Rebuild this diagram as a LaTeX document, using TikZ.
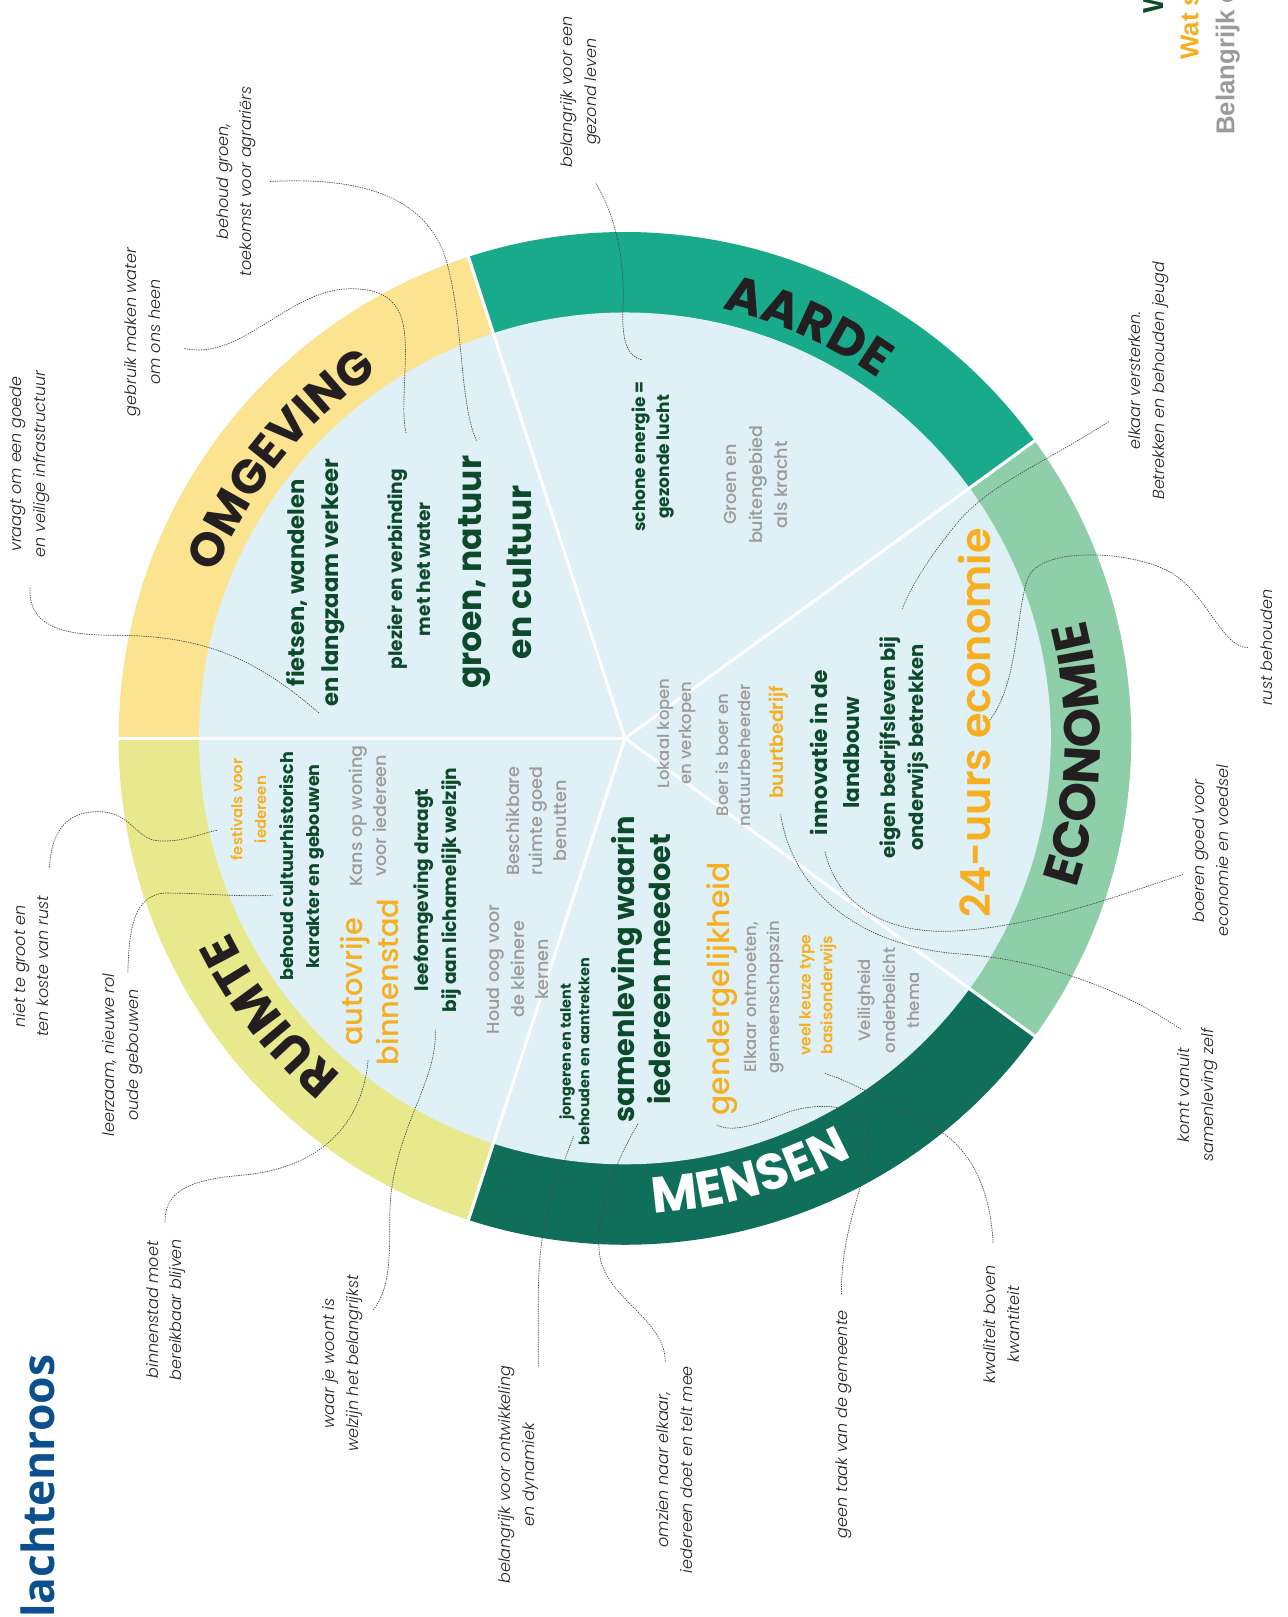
\documentclass[tikz,border=0pt]{standalone}
\usepackage{fontspec}
\setmainfont{Poppins}
\newfontfamily\pbold{Poppins Bold}
\newfontfamily\psemi{Poppins SemiBold}
\newfontfamily\pmed{Poppins Medium}
\newfontfamily\preg{Poppins}
\newfontfamily\plit{Poppins Light Italic}
\newfontfamily\ringfont{Poppins Bold}
\newfontfamily\titlefont{Open Sans}
\newfontfamily\headfont{Liberation Sans}
\usetikzlibrary{decorations.text}

\definecolor{omgc}{HTML}{FBE390}
\definecolor{aardec}{HTML}{18AA8B}
\definecolor{ecoc}{HTML}{8ECEA9}
\definecolor{mensc}{HTML}{0F6F5B}
\definecolor{ruimc}{HTML}{E8E98C}
\definecolor{innerc}{HTML}{DFF0F6}
\definecolor{dgreen}{HTML}{0C4A2B}
\definecolor{orangetxt}{HTML}{F7AF22}
\definecolor{greytxt}{HTML}{9A9A99}
\definecolor{anntxt}{HTML}{222222}
\definecolor{conncol}{HTML}{4A4A4A}
\definecolor{ringtxt}{HTML}{231F20}
\definecolor{titleblue}{HTML}{0B4F8E}
\definecolor{headgreen}{HTML}{0C4A2B}

\newcommand\myfs[2]{\fontsize{#1}{#2}\selectfont}

\tikzset{
  lbl/.style={rotate=90, align=center, inner sep=0pt},
  dg/.style={lbl, text=dgreen},
  gr/.style={lbl, text=greytxt},
  og/.style={lbl, text=orangetxt},
  ann/.style={lbl, text=anntxt, font=\plit\myfs{15.5}{23}},
  conn/.style={draw=conncol, line width=0.7pt, dash pattern=on 0.9pt off 1.4pt, line cap=round},
  sepline/.style={draw=white, line width=3pt},
  ringlbl/.style={decorate, decoration={text along path, text align=center, text color=#1}},
}

\begin{document}
\begin{tikzpicture}[x=1pt,y=-1pt]
\useasboundingbox (0,0) rectangle (1248,1568);
\fill[white] (0,0) rectangle (1248,1568);

\coordinate (C) at (606,716);
\begin{scope}[shift={(606,716)}]
  \fill[omgc]   (0,0) -- (180:491) arc[start angle=180,end angle=252,radius=491] -- cycle;
  \fill[aardec] (0,0) -- (252:491) arc[start angle=252,end angle=324,radius=491] -- cycle;
  \fill[ecoc]   (0,0) -- (-36:491) arc[start angle=-36,end angle=36,radius=491] -- cycle;
  \fill[mensc]  (0,0) -- (36:491) arc[start angle=36,end angle=108,radius=491] -- cycle;
  \fill[ruimc]  (0,0) -- (108:491) arc[start angle=108,end angle=180,radius=491] -- cycle;
  \fill[innerc] (0,0) circle[radius=413];
  \foreach \a in {36,108,180,252,324} \draw[sepline] (0,0) -- (\a:494);

  % ring labels
  \path[ringlbl=ringtxt, decoration={text={|\ringfont\myfs{46}{50}|OMGEVING}}]
     (179:428) arc[start angle=179,end angle=259,radius=428];
  \path[ringlbl=ringtxt, decoration={text={|\ringfont\myfs{49}{52}|AARDE}}]
     (254:427) arc[start angle=254,end angle=334,radius=427];
  \path[ringlbl=ringtxt, decoration={text={|\ringfont\myfs{48}{52}|RUIMTE}}]
     (102:427) arc[start angle=102,end angle=182,radius=427];
  \path[ringlbl=ringtxt, decoration={text={|\ringfont\myfs{49}{52}|ECONOMIE}}]
     (42:461) arc[start angle=42,end angle=-38,radius=461];
  \path[ringlbl=white, decoration={text={|\ringfont\myfs{49}{52}|MENSEN}}]
     (114:461) arc[start angle=114,end angle=34,radius=461];
\end{scope}

% ---------- inner texts ----------
\node[dg, font=\pbold\myfs{22}{33}] (n1) at (306,565) {fietsen, wandelen\\en langzaam verkeer};
\node[dg, font=\pbold\myfs{18}{27}] (n2) at (397,552) {plezier en verbinding\\met het water};
\node[dg, font=\pbold\myfs{32}{48}] (n3) at (480,555) {groen, natuur\\en cultuur};
\node[dg, font=\pbold\myfs{16.5}{23}] (n4) at (633,443) {schone energie =\\gezonde lucht};
\node[gr, font=\pmed\myfs{17}{25}] (n5) at (733,470) {Groen en\\buitengebied\\als kracht};
\node[gr, font=\pmed\myfs{16}{22}] (n6) at (656,711) {Lokaal kopen\\en verkopen};
\node[gr, font=\pmed\myfs{16}{22}] (n7) at (711,732) {Boer is boer en\\natuurbeheerder};
\node[og, font=\psemi\myfs{18}{24}] (n8) at (755,720) {buurtbedrijf};
\node[dg, font=\pbold\myfs{21}{31}] (n9) at (810,730) {innovatie in de\\landbouw};
\node[dg, font=\pbold\myfs{19}{27}] (n10) at (877,725) {eigen bedrijfsleven bij\\onderwijs betrekken};
\node[og, font=\psemi\myfs{40}{44}] (n11) at (945,701) {24-uurs economie};
\node[dg, font=\pbold\myfs{28}{35}] (n12) at (622,940) {samenleving waarin\\iedereen meedoet};
\node[og, font=\pmed\myfs{29}{32}] (n13) at (700,959) {gendergelijkheid};
\node[gr, font=\pmed\myfs{16}{22}] (n14) at (741,967) {Elkaar ontmoeten,\\gemeenschapszin};
\node[og, font=\psemi\myfs{15}{21}] (n15) at (793,965) {veel keuze type\\basisonderwijs};
\node[gr, font=\pmed\myfs{16}{24}] (n16) at (862,970) {Veiligheid\\onderbelicht\\thema};
\node[dg, font=\pbold\myfs{14}{18}] (n17) at (557,1020) {jongeren en talent\\behouden en aantrekken};
\node[og, font=\psemi\myfs{14.5}{23}] (n18) at (241,785) {festivals voor\\iedereen};
\node[dg, font=\pbold\myfs{17}{25}] (n19) at (293,840) {behoud cultuurhistorisch\\karakter en gebouwen};
\node[gr, font=\pmed\myfs{17}{23}] (n20) at (357,791) {Kans op woning\\voor iedereen};
\node[og, font=\pmed\myfs{28}{35}] (n21) at (358,952) {autovrije\\binnenstad};
\node[dg, font=\pbold\myfs{18}{27}] (n22) at (424,863) {leefomgeving draagt\\bij aan lichamelijk welzijn};
\node[gr, font=\pmed\myfs{17}{23}] (n23) at (520,796) {Beschikbare\\ruimte goed\\benutten};
\node[gr, font=\pmed\myfs{17}{24}] (n24) at (502,940) {Houd oog voor\\de kleinere\\kernen};

% ---------- annotations ----------
\node[ann] (a1) at (29,450) {vraagt om een goede\\en veilige infrastructuur};
\node[ann] (a2) at (138,322) {gebruik maken water\\om ons heen};
\node[ann] (a3) at (229,176) {behoud groen,\\toekomst voor agrariërs};
\node[ann] (a4) at (563,89) {belangrijk voor een\\gezond leven};
\node[ann] (a5) at (1114,369) {elkaar versterken.\\Betrekken en behouden jeugd};
\node[ann] (a6) at (1228,628) {rust behouden};
\node[ann] (a7) at (1174,825) {boeren goed voor\\economie en voedsel};
\node[ann] (a8) at (1161,1062) {komt vanuit\\samenleving zelf};
\node[ann] (a9) at (971,1284) {kwaliteit boven\\kwantiteit};
\node[ann] (a10) at (818,1381) {geen taak van de gemeente};
\node[ann] (a11) at (654,1425) {omzien naar elkaar,\\iedereen doet en telt mee};
\node[ann] (a12) at (503,1430) {belangrijk voor ontwikkeling\\en dynamiek};
\node[ann] (a13) at (332,1322) {waar je woont is\\welzijn het belangrijkst};
\node[ann] (a14) at (161,1270) {binnenstad moet\\bereikbaar blijven};
\node[ann] (a15) at (119,1023) {leerzaam, nieuwe rol\\oude gebouwen};
\node[ann] (a16) at (30,937) {niet te groot en\\ten koste van rust};

% ---------- titles ----------
\node[lbl, anchor=base west, text=titleblue, font=\titlefont\bfseries\myfs{43}{44}] (title) at (53,1569) {lachtenroos};
\node[lbl, anchor=base west, text=headgreen, font=\headfont\bfseries\myfs{28}{30}] (h1) at (1128,13) {W};
\node[lbl, anchor=base west, text=orangetxt, font=\headfont\bfseries\myfs{25}{28}] (h2) at (1162,58) {Wat s};
\node[lbl, anchor=base west, text=greytxt, font=\headfont\bfseries\myfs{25}{28}] (h3) at (1197,131) {Belangrijk o};

% ---------- connector end points ----------
\coordinate (s1) at (29,570);   \coordinate (e1) at (310,692);
\coordinate (s2) at (179,338);  \coordinate (e2) at (394,421);
\coordinate (s3) at (262,176);  \coordinate (e3) at (462,427);
\coordinate (s4) at (578,178);  \coordinate (e4) at (623,349);
\coordinate (s5) at (1075,409); \coordinate (e5) at (875,590);
\coordinate (s6) at (1210,628); \coordinate (e6) at (960,698);
\coordinate (s7) at (1147,848); \coordinate (e7) at (800,826);
\coordinate (s8) at (1145,998); \coordinate (e8) at (757,790);
\coordinate (s9) at (963,1205); \coordinate (e9) at (800,1041);
\coordinate (s10) at (816,1255); \coordinate (e10) at (695,1091);
\coordinate (s11) at (645,1320); \coordinate (e11) at (619,1089);
\coordinate (s12) at (522,1325); \coordinate (e12) at (556,1102);
\coordinate (s13) at (362,1270); \coordinate (e13) at (422,999);
\coordinate (s14) at (160,1185); \coordinate (e14) at (357,1028);
\coordinate (s15) at (124,943);  \coordinate (e15) at (264,868);
\coordinate (s16) at (48,841);   \coordinate (e16) at (211,805);

% ---------- connectors ----------
\draw[conn] (s1) .. controls (28,605) and (55,616) .. (110,616) .. controls (200,616) and (250,640) .. (e1);
\draw[conn] (s2) .. controls (235,350) and (280,280) .. (340,280) .. controls (390,280) and (394,310) .. (393,350) .. controls (392,385) and (390,405) .. (e2);
\draw[conn] (s3) .. controls (340,172) and (410,185) .. (432,250) .. controls (450,310) and (445,390) .. (e3);
\draw[conn] (s4) .. controls (600,215) and (606,260) .. (604,300) .. controls (603,330) and (608,346) .. (e4);
\draw[conn] (s5) .. controls (1010,450) and (960,470) .. (930,505) .. controls (905,535) and (885,565) .. (e5);
\draw[conn] (s6) .. controls (1185,628) and (1170,575) .. (1135,555) .. controls (1100,535) and (1020,530) .. (1000,555) .. controls (985,575) and (990,660) .. (e6);
\draw[conn] (s7) .. controls (1080,870) and (1000,900) .. (920,903) .. controls (850,905) and (810,870) .. (e7);
\draw[conn] (s8) .. controls (1090,960) and (1010,930) .. (930,925) .. controls (840,918) and (770,870) .. (e8);
\draw[conn] (s9) .. controls (960,1150) and (940,1110) .. (900,1090) .. controls (860,1070) and (830,1050) .. (e9);
\draw[conn] (s10) .. controls (815,1180) and (850,1130) .. (842,1095) .. controls (835,1070) and (790,1068) .. (760,1080) .. controls (730,1092) and (710,1098) .. (e10);
\draw[conn] (s11) .. controls (645,1280) and (590,1260) .. (582,1220) .. controls (575,1180) and (595,1130) .. (e11);
\draw[conn] (s12) .. controls (522,1260) and (520,1220) .. (530,1180) .. controls (540,1140) and (550,1120) .. (e12);
\draw[conn] (s13) .. controls (378,1250) and (378,1220) .. (378,1180) .. controls (378,1100) and (425,1050) .. (e13);
\draw[conn] (s14) .. controls (160,1160) and (175,1145) .. (230,1140) .. controls (300,1135) and (350,1100) .. (e14);
\draw[conn] (s15) .. controls (125,900) and (130,868) .. (160,866) .. controls (200,866) and (230,870) .. (e15);
\draw[conn] (s16) .. controls (50,800) and (70,787) .. (95,787) .. controls (125,787) and (130,810) .. (150,815) .. controls (175,818) and (195,808) .. (e16);
\end{tikzpicture}
\end{document}
